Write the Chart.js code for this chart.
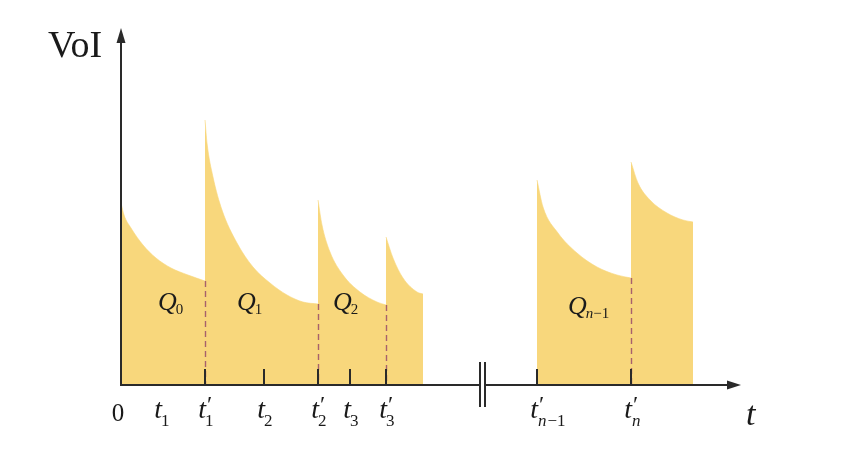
<!DOCTYPE html>
<html>
<head>
<meta charset="utf-8">
<script src="https://cdn.jsdelivr.net/npm/chart.js@4"></script>
<style>
  html, body { margin: 0; padding: 0; background: #ffffff; }
  #wrap { width: 850px; height: 450px; }
</style>
</head>
<body>
<div id="wrap"><canvas id="c" width="850" height="450"></canvas></div>
<script>
// ---- data (arbitrary units: t along x, VoI along y) ----
const seg0X = [0, 3, 10, 22, 35, 50, 67, 84];
const seg0Y = [182, 170, 157, 140, 127, 117, 110, 104];
const seg1X = [84, 86, 92, 101, 116, 132, 149, 166, 182, 197];
const seg1Y = [265, 242, 208, 175, 142, 118, 102, 90, 83, 81];
const seg2X = [197, 201, 209, 222, 239, 256, 265];
const seg2Y = [185, 160, 133, 110, 93, 83, 80];
const seg3X = [265, 272, 282, 296, 302];
const seg3Y = [148, 127, 107, 93, 91];
const segN1X = [416, 422, 437, 456, 476, 496, 510];
const segN1Y = [205, 178, 152, 132, 118, 110, 107];
const segNX = [510, 517, 529, 546, 562, 572];
const segNY = [223, 202, 185, 172, 165, 163];

// tick values on the t axis and their labels
const tickValues = [0, 37, 84, 143, 197, 229, 265, 416, 510];
const tickMain   = ['0', 't', 't', 't', 't', 't', 't', 't', 't'];
const tickSub    = ['', '1', '1', '2', '2', '3', '3', 'n\u22121', 'n'];
const tickPrime  = [false, false, true, false, true, false, true, true, true];
const tickMarked = [false, false, true, true, true, true, true, true, true];

// region labels Q_k
const qMain = ['Q', 'Q', 'Q', 'Q'];
const qSub  = ['0', '1', '2', 'n\u22121'];
const qAt   = [37, 116, 212, 447];

// axis extent / break
const xMax = 624, yMax = 355;
const breakAt = [359, 364];

const segs = [[seg0X, seg0Y], [seg1X, seg1Y], [seg2X, seg2Y], [seg3X, seg3Y], [segN1X, segN1Y], [segNX, segNY]];
const FILL = 'rgb(248,215,124)';

const datasets = segs.map(([xs, ys]) => ({
  data: xs.map((x, i) => ({ x: x, y: ys[i] })),
  fill: 'origin',
  backgroundColor: FILL,
  borderColor: FILL,
  borderWidth: 0.6,
  pointRadius: 0,
  cubicInterpolationMode: 'monotone'
}));

const SERIF = '"Liberation Serif", "DejaVu Serif", serif';

const decor = {
  id: 'decor',
  afterDatasetsDraw(chart) {
    const ctx = chart.ctx;
    const xs = chart.scales.x, ys = chart.scales.y;
    const X = v => xs.getPixelForValue(v);
    const Y = v => ys.getPixelForValue(v);
    const x0 = X(0), y0 = Y(0);
    ctx.save();

    // dashed separators at the t' instants (from the end of previous segment)
    ctx.strokeStyle = '#a8616c';
    ctx.lineWidth = 1.4;
    ctx.setLineDash([6, 4]);
    [[seg0X, seg0Y], [seg1X, seg1Y], [seg2X, seg2Y], [segN1X, segN1Y]].forEach(([sx, sy]) => {
      const px = Math.round(X(sx[sx.length - 1])) + 0.5;
      ctx.beginPath();
      ctx.moveTo(px, Y(sy[sy.length - 1]));
      ctx.lineTo(px, y0);
      ctx.stroke();
    });
    ctx.setLineDash([]);

    // axes
    ctx.strokeStyle = '#2a2a2a';
    ctx.fillStyle = '#2a2a2a';
    ctx.lineWidth = 2;
    ctx.beginPath();
    ctx.moveTo(x0, y0 + 1);
    ctx.lineTo(x0, Y(yMax) + 10);
    ctx.stroke();
    ctx.beginPath();
    ctx.moveTo(x0, Y(yMax) - 2);
    ctx.lineTo(x0 - 4.5, Y(yMax) + 13);
    ctx.lineTo(x0 + 4.5, Y(yMax) + 13);
    ctx.closePath();
    ctx.fill();

    const b1 = X(breakAt[0]), b2 = X(breakAt[1]);
    ctx.beginPath();
    ctx.moveTo(x0 - 1, y0);
    ctx.lineTo(b1, y0);
    ctx.moveTo(b2, y0);
    ctx.lineTo(X(xMax) - 10, y0);
    ctx.stroke();
    ctx.beginPath();
    ctx.moveTo(X(xMax) - 4, y0);
    ctx.lineTo(X(xMax) - 18, y0 - 4.5);
    ctx.lineTo(X(xMax) - 18, y0 + 4.5);
    ctx.closePath();
    ctx.fill();
    // break marks
    ctx.lineWidth = 2;
    ctx.beginPath();
    ctx.moveTo(b1, y0 - 23); ctx.lineTo(b1, y0 + 22);
    ctx.moveTo(b2, y0 - 23); ctx.lineTo(b2, y0 + 22);
    ctx.stroke();

    // tick marks
    ctx.lineWidth = 2;
    tickValues.forEach((v, i) => {
      if (!tickMarked[i]) return;
      const px = Math.round(X(v));
      ctx.beginPath();
      ctx.moveTo(px, y0);
      ctx.lineTo(px, y0 - 16);
      ctx.stroke();
    });

    // tick labels
    ctx.fillStyle = '#1a1a1a';
    ctx.textBaseline = 'alphabetic';
    tickValues.forEach((v, i) => {
      const px = X(v);
      if (tickMain[i] === '0') {
        ctx.font = '25px ' + SERIF;
        ctx.textAlign = 'center';
        ctx.fillText('0', px - 3, y0 + 36);
        return;
      }
      const ax = px + (tickMarked[i] ? 1 : 4);
      ctx.font = 'italic 28px ' + SERIF;
      ctx.textAlign = 'right';
      ctx.fillText(tickMain[i], ax, y0 + 33);
      if (tickPrime[i]) {
        ctx.font = '24px ' + SERIF;
        ctx.textAlign = 'left';
        ctx.fillText('\u2032', ax + 1, y0 + 27);
      }
      const s = tickSub[i];
      ctx.textAlign = 'left';
      if (s.startsWith('n')) {
        ctx.font = 'italic 17px ' + SERIF;
        ctx.fillText('n', ax, y0 + 41);
        if (s.length > 1) {
          const w = ctx.measureText('n').width;
          ctx.font = '17px ' + SERIF;
          ctx.fillText(s.slice(1), ax + w + 1, y0 + 41);
        }
      } else {
        ctx.font = '17px ' + SERIF;
        ctx.fillText(s, ax - 1, y0 + 41);
      }
    });

    // axis titles
    ctx.font = 'italic 34px ' + SERIF;
    ctx.textAlign = 'left';
    ctx.fillText('t', X(xMax) + 1, y0 + 40);
    ctx.font = '38px ' + SERIF;
    ctx.textAlign = 'left';
    ctx.fillText('VoI', 48, Y(yMax) + 27);

    // region labels
    qAt.forEach((v, i) => {
      const px = X(v);
      const last = i === qAt.length - 1;
      const by = last ? y0 - 71 : y0 - 75;
      ctx.font = 'italic 26px ' + SERIF;
      ctx.textAlign = 'left';
      ctx.fillText(qMain[i], px, by);
      const w = ctx.measureText(qMain[i]).width;
      const s = qSub[i];
      if (s.startsWith('n')) {
        ctx.font = 'italic 15px ' + SERIF;
        ctx.fillText('n', px + w - 1, by + 4);
        const wn = ctx.measureText('n').width;
        ctx.font = '15px ' + SERIF;
        ctx.fillText(s.slice(1), px + w - 1 + wn, by + 4);
      } else {
        ctx.font = '15px ' + SERIF;
        ctx.fillText(s, px + w - 1, by + 4);
      }
    });
    ctx.restore();
  }
};

new Chart(document.getElementById('c'), {
  type: 'line',
  data: { datasets: datasets },
  options: {
    responsive: false,
    animation: false,
    devicePixelRatio: 1,
    layout: { padding: { left: 121, right: 105, top: 30, bottom: 65 } },
    scales: {
      x: { type: 'linear', min: 0, max: xMax, display: false },
      y: { type: 'linear', min: 0, max: yMax, display: false }
    },
    plugins: { legend: { display: false }, tooltip: { enabled: false } },
    elements: { line: { tension: 0 } }
  },
  plugins: [decor]
});
</script>
</body>
</html>
